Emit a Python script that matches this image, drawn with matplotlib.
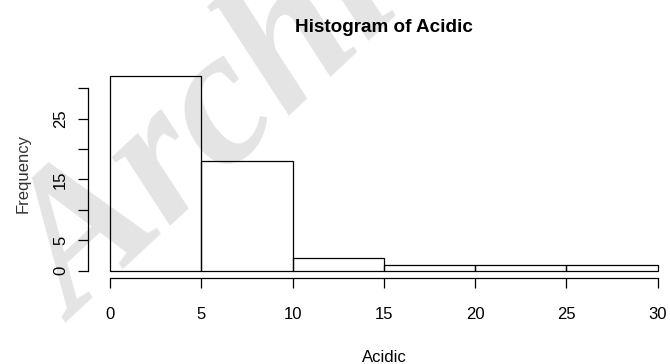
import matplotlib
matplotlib.use("Agg")
import matplotlib.pyplot as plt
import numpy as np

# histogram of Acidic: bin edges and counts
bin_edges = [0, 5, 10, 15, 20, 25, 30]
counts = [32, 18, 2, 1, 1, 1]
y_ticks = [0, 5, 10, 15, 20, 25, 30]
y_tick_labels = ["0", "5", "", "15", "", "25", ""]
x_ticks = [0, 5, 10, 15, 20, 25, 30]

plt.rcParams['font.family'] = ['Liberation Sans', 'DejaVu Sans']

fig = plt.figure(figsize=(6.7, 3.64), dpi=100)
# plot region like R: axes runs past the right edge of the picture
ax = fig.add_axes([88.2 / 670, 85.6 / 364, 591.4 / 670, 210.1 / 364])
ax.patch.set_alpha(0)

# faint watermark behind everything
fig.text(-0.025, 0.143, "Archive", fontsize=140, family='Liberation Serif',
         fontweight='bold', fontstyle='italic', color='#e4e4e4',
         rotation=43, ha='left', va='baseline', zorder=-1)

widths = np.diff(bin_edges)
ax.bar(bin_edges[:-1], counts, width=widths, align='edge',
       facecolor='none', edgecolor='black', linewidth=0.9)

ax.set_xlim(-1.2, 31.2)
ax.set_ylim(-1.28, 33.28)

for s in ['top', 'right']:
    ax.spines[s].set_visible(False)
ax.spines['left'].set_bounds(0, 30)
ax.spines['bottom'].set_bounds(0, 30)
ax.spines['left'].set_linewidth(0.9)
ax.spines['bottom'].set_linewidth(0.9)

ax.set_xticks(x_ticks)
ax.set_xticklabels([str(t) for t in x_ticks])
ax.set_yticks(y_ticks)
ax.set_yticklabels(y_tick_labels, rotation=90, va='center')
ax.tick_params(axis='both', direction='out', length=7.5, width=0.9,
               labelsize=12, colors='black')
ax.tick_params(axis='x', pad=13)
ax.tick_params(axis='y', pad=7)

ax.set_title("Histogram of Acidic", fontsize=13.6, fontweight='bold', pad=26)
ax.set_xlabel("Acidic", fontsize=12, labelpad=20)
ax.set_ylabel("Frequency", fontsize=12, labelpad=16, color='#333333')

fig.savefig("out.png", dpi=100)
